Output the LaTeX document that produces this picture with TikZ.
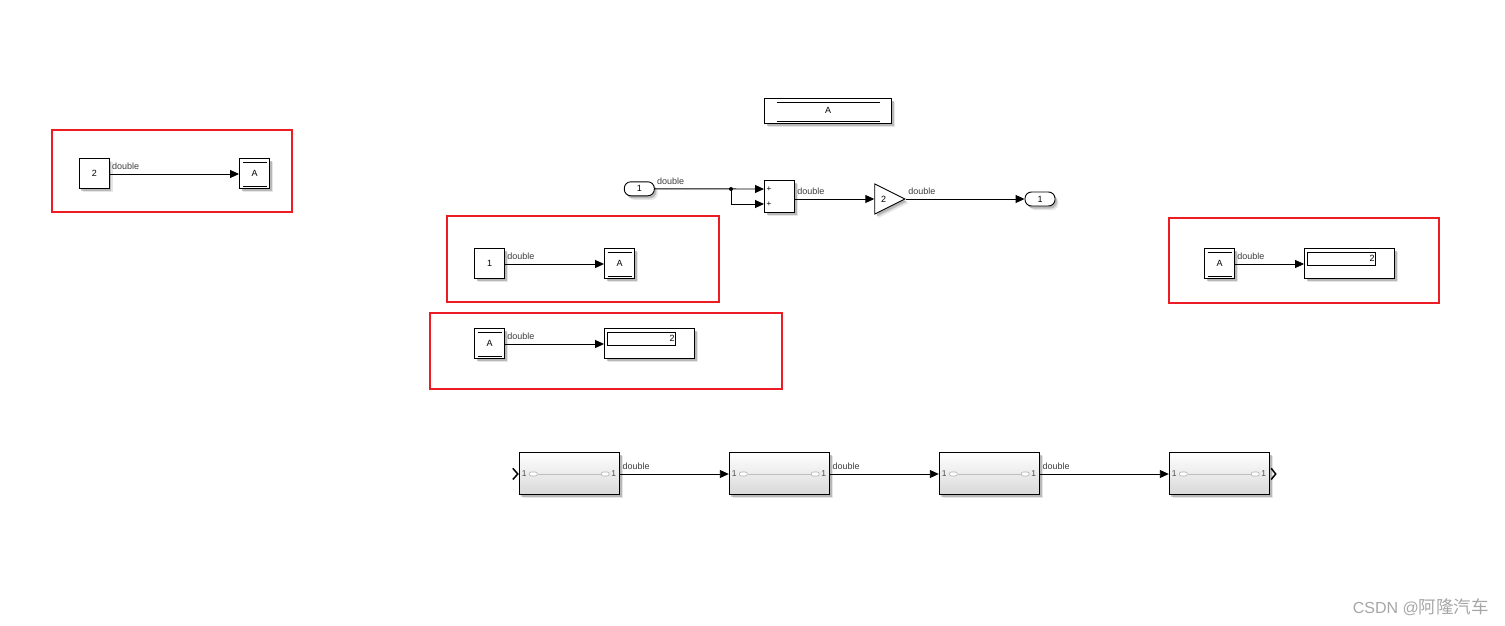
\documentclass[tikz,border=0pt]{standalone}
\usepackage{fontspec}
\setmainfont{Liberation Sans}
\newfontfamily\cjkfont{Noto Sans CJK SC}
\usepackage{xcolor}
\usetikzlibrary{arrows.meta, positioning, calc, shadows, shapes.geometric}
\definecolor{redmark}{RGB}{237,28,36}
\definecolor{labelgray}{RGB}{60,60,60}

\begin{document}
\begin{tikzpicture}[
  x=1pt, y=-1pt,
  softshadow/.style={
              drop shadow={shadow xshift=3.5pt, shadow yshift=-4pt, opacity=.2},
              drop shadow={shadow xshift=2pt, shadow yshift=-2.5pt, opacity=.45}},
  blk/.style={rectangle, draw=black, fill=white, line width=0.9pt,
              minimum width=30pt, minimum height=30pt, inner sep=0pt,
              font=\fontsize{9}{9}\selectfont, softshadow},
  store/.style={blk, path picture={
      \draw[line width=0.9pt] ([xshift=#1,yshift=-4pt]path picture bounding box.north west)
        -- ([xshift=-#1,yshift=-4pt]path picture bounding box.north east);
      \draw[line width=0.9pt] ([xshift=#1,yshift=1.8pt]path picture bounding box.south west)
        -- ([xshift=-#1,yshift=1.8pt]path picture bounding box.south east);}},
  store/.default=3pt,
  port/.style={blk, rounded corners=6.5pt, minimum height=14pt},
  subsys/.style={blk, minimum width=100.5pt, minimum height=42pt,
              top color=white, middle color=white, bottom color=black!15},
  portnum/.style={font=\fontsize{8.5}{8.5}\selectfont, text=black!70, inner sep=0pt},
  portoval/.style={draw=black!30, fill=white, rounded corners=2pt, line width=0.6pt,
              minimum width=8pt, minimum height=4pt, inner sep=0pt},
  arr/.style={-{Triangle[length=9pt,width=8pt]}, line width=0.9pt, black},
  lbl/.style={font=\fontsize{9}{9}\selectfont, text=labelgray, inner sep=0pt,
              anchor=south west, xshift=2pt, yshift=4pt},
  redbox/.style={draw=redmark, line width=1.8pt}
]
\useasboundingbox (0,0) rectangle (1505,626);
%% data store at the top
\node[store=12pt, minimum width=127pt, minimum height=25pt] (dsm) at (828,110.7) {A};
%% model row
\node[port, minimum width=30pt] (inp) at (639.3,188.8) {1};
\node[blk, minimum width=30pt, minimum height=32pt] (sum) at (779.5,196) {};
\node[font=\fontsize{8}{8}\selectfont, inner sep=0pt] (plusa) at (769,189) {+};
\node[font=\fontsize{8}{8}\selectfont, inner sep=0pt] (plusb) at (769,204) {+};
\node[draw=black, fill=white, line width=0.9pt, isosceles triangle, isosceles triangle stretches,
      minimum width=30pt, minimum height=30pt, inner sep=0pt, anchor=west, softshadow] (gain) at (874.3,199) {};
\node[font=\fontsize{9}{9}\selectfont, inner sep=0pt] (gaintxt) at (883.5,199.5) {2};
\node[port, minimum width=30pt] (outp) at (1040,199) {1};
\coordinate (sumin1) at (764,189);
\coordinate (sumin2) at (764,204);
\coordinate (sumout) at (795,199);
\coordinate (split) at (731,189);
\draw[arr] (inp.east) -- node[lbl, pos=0] (lab1) {double} (sumin1);
\draw[arr] (split) -- (731,204) -- (sumin2);
\fill (split) circle (2pt);
\draw[arr] (sumout) -- node[lbl, pos=0] (lab2) {double} (gain.west);
\draw[arr] (gain.east) -- node[lbl, pos=0] (lab3) {double} (outp.west);
%% red box, left
\node[blk] (cst2) at (94.3,173.3) {2};
\node[store] (goto2) at (254.5,173.3) {A};
\draw[arr] ([yshift=-.7pt]cst2.east) -- node[lbl, pos=0] (lab4) {double} ([yshift=-.7pt]goto2.west);
\draw[redbox] (52,130) rectangle (292,212);
%% red box, write
\node[blk] (cst1) at (489.5,263.3) {1};
\node[store] (goto1) at (619.5,263.3) {A};
\draw[arr] ([yshift=-.7pt]cst1.east) -- node[lbl, pos=0] (lab5) {double} ([yshift=-.7pt]goto1.west);
\draw[redbox] (447,216) rectangle (719,302);
%% red box, read
\node[store] (from1) at (489.5,343.3) {A};
\node[blk, minimum width=90pt] (disp1) at (649.5,343.3) {};
\node[draw=black, line width=0.7pt, minimum width=68.5pt, minimum height=13pt, inner sep=1pt,
      align=right, text width=66.5pt, font=\fontsize{9}{9}\selectfont] (val1) at (641.3,338.5) {2};
\draw[arr] ([yshift=-.7pt]from1.east) -- node[lbl, pos=0] (lab6) {double} ([yshift=-.7pt]disp1.west);
\draw[redbox] (430,313) rectangle (782,389);
%% red box, right
\node[store] (from2) at (1219.5,263.3) {A};
\node[blk, minimum width=90pt] (disp2) at (1349.5,263.3) {};
\node[draw=black, line width=0.7pt, minimum width=68.5pt, minimum height=13pt, inner sep=1pt,
      align=right, text width=66.5pt, font=\fontsize{9}{9}\selectfont] (val2) at (1341.3,258.5) {2};
\draw[arr] ([yshift=-.7pt]from2.east) -- node[lbl, pos=0] (lab7) {double} ([yshift=-.7pt]disp2.west);
\draw[redbox] (1169,218) rectangle (1439,303);
%% subsystem row
\node[subsys] (subA) at (569.5,473.3) {};
\node[subsys] (subB) at (779.5,473.3) {};
\node[subsys] (subC) at (989.5,473.3) {};
\node[subsys] (subD) at (1219.5,473.3) {};
\foreach \s in {subA,subB,subC,subD} {
  \node[portoval] (\s ovl) at ([xshift=14.5pt,yshift=-.7pt]\s.west) {};
  \node[portoval] (\s ovr) at ([xshift=-15pt,yshift=-.7pt]\s.east) {};
  \draw[black!25, line width=0.6pt] (\s ovl) -- (\s ovr);
  \node[portnum] (\s nl) at ([xshift=5.5pt,yshift=-.7pt]\s.west) {1};
  \node[portnum] (\s nr) at ([xshift=-6.5pt,yshift=-.7pt]\s.east) {1};
}
\draw[arr] ([yshift=-.7pt]subA.east) -- node[lbl, pos=0] (lab8) {double} ([yshift=-.7pt]subB.west);
\draw[arr] ([yshift=-.7pt]subB.east) -- node[lbl, pos=0] (lab9) {double} ([yshift=-.7pt]subC.west);
\draw[arr] ([yshift=-.7pt]subC.east) -- node[lbl, pos=0] (lab10) {double} ([yshift=-.7pt]subD.west);
\draw[line width=1.5pt] ([xshift=-6pt,yshift=5pt]subA.west) -- ([xshift=-1pt,yshift=-.7pt]subA.west)
  -- ([xshift=-6pt,yshift=-6.2pt]subA.west);
\draw[line width=1.5pt] ([xshift=1pt,yshift=5pt]subD.east) -- ([xshift=5.5pt,yshift=-.7pt]subD.east)
  -- ([xshift=1pt,yshift=-6.2pt]subD.east);
%% watermark
\node[anchor=east, inner sep=0pt, text=black!35, font=\fontsize{16}{17}\selectfont] (mark) at (1489,607.5)
  {CSDN @{\cjkfont\fontsize{17.5}{17}\selectfont 阿隆汽车}};
\end{tikzpicture}
\end{document}
